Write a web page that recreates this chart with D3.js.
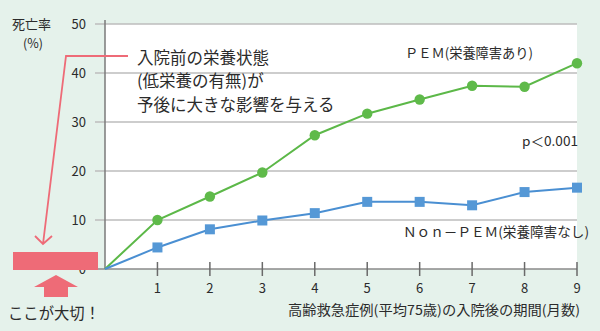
<!DOCTYPE html>
<html lang="ja">
<head>
<meta charset="UTF-8">
<script src="https://d3js.org/d3.v7.min.js"></script>
<style>
  html, body { margin: 0; padding: 0; background: #e5f2eb; }
  svg { display: block; }
  text { font-family: "Noto Sans CJK JP", "Noto Sans", sans-serif; fill: #2b2b2b; }
</style>
</head>
<body>
<div id="chart"></div>
<script>
  // data
  const months = [0, 1, 2, 3, 4, 5, 6, 7, 8, 9];
  const pem = [0, 10, 14.8, 19.7, 27.3, 31.7, 34.6, 37.4, 37.2, 42.0];
  const nonPem = [0, 4.4, 8.1, 9.9, 11.4, 13.7, 13.7, 13.0, 15.7, 16.6];
  const yTicks = [0, 10, 20, 30, 40, 50];
  const xTicks = [1, 2, 3, 4, 5, 6, 7, 8, 9];
  const noteLines = ['入院前の栄養状態', '(低栄養の有無)が', '予後に大きな影響を与える'];

  const W = 600, H = 331;
  const x = d3.scaleLinear().domain([0, 9]).range([105, 577]);
  const y = d3.scaleLinear().domain([0, 50]).range([269, 24]);

  const svg = d3.select('#chart').append('svg').attr('width', W).attr('height', H);

  // background + white plot area
  svg.append('rect').attr('width', W).attr('height', H).attr('fill', '#e5f2eb');
  svg.append('rect')
    .attr('x', x(0)).attr('y', y(50))
    .attr('width', x(9) - x(0)).attr('height', y(0) - y(50))
    .attr('fill', '#fff');

  // horizontal gridlines
  svg.selectAll('line.grid')
    .data(yTicks.filter(d => d > 0))
    .enter().append('line')
    .attr('class', 'grid')
    .attr('x1', 95).attr('x2', x(9))
    .attr('y1', d => y(d)).attr('y2', d => y(d))
    .attr('stroke', '#bdbdbd').attr('stroke-width', 1.5);

  // y tick labels
  svg.selectAll('text.ytick')
    .data(yTicks)
    .enter().append('text')
    .attr('class', 'ytick')
    .attr('x', 86).attr('y', d => y(d))
    .attr('dy', '0.36em')
    .attr('text-anchor', 'end')
    .attr('font-size', 13)
    .text(d => d);

  // axes lines
  svg.append('line')
    .attr('x1', x(0)).attr('x2', x(0)).attr('y1', 20).attr('y2', y(0))
    .attr('stroke', '#7a7a7a').attr('stroke-width', 1.5);
  svg.append('line')
    .attr('x1', 95).attr('x2', x(9)).attr('y1', y(0)).attr('y2', y(0))
    .attr('stroke', '#8a8a8a').attr('stroke-width', 1.5);

  // x ticks
  svg.selectAll('line.xtick')
    .data(xTicks)
    .enter().append('line')
    .attr('x1', d => x(d)).attr('x2', d => x(d))
    .attr('y1', 262).attr('y2', 276)
    .attr('stroke', '#6a6a6a').attr('stroke-width', 1.5);
  svg.selectAll('text.xtick')
    .data(xTicks)
    .enter().append('text')
    .attr('class', 'xtick')
    .attr('x', d => x(d)).attr('y', 288)
    .attr('dy', '0.36em')
    .attr('text-anchor', 'middle')
    .attr('font-size', 13)
    .text(d => d);

  // axis titles
  svg.append('text')
    .attr('x', 580).attr('y', 310).attr('dy', '0.36em')
    .attr('text-anchor', 'end').attr('font-size', 13.5)
    .attr('textLength', 292).attr('lengthAdjust', 'spacingAndGlyphs')
    .text('高齢救急症例(平均75歳)の入院後の期間(月数)');
  svg.append('text')
    .attr('x', 12).attr('y', 24).attr('dy', '0.36em')
    .attr('font-size', 13)
    .text('死亡率');
  svg.append('text')
    .attr('x', 33).attr('y', 43).attr('dy', '0.36em')
    .attr('text-anchor', 'middle').attr('font-size', 12.5)
    .text('(%)');

  // lines
  const line = d3.line().x((d, i) => x(months[i])).y(d => y(d));

  svg.append('path').datum(pem)
    .attr('d', line).attr('fill', 'none')
    .attr('stroke', '#5cb848').attr('stroke-width', 2);
  svg.append('path').datum(nonPem)
    .attr('d', line).attr('fill', 'none')
    .attr('stroke', '#4a8fd2').attr('stroke-width', 2);

  // markers (skip the origin)
  svg.selectAll('circle.pem')
    .data(pem.slice(1))
    .enter().append('circle')
    .attr('cx', (d, i) => x(months[i + 1])).attr('cy', d => y(d))
    .attr('r', 5.2).attr('fill', '#5fba4a');
  svg.selectAll('rect.non')
    .data(nonPem.slice(1))
    .enter().append('rect')
    .attr('x', (d, i) => x(months[i + 1]) - 5).attr('y', d => y(d) - 5)
    .attr('width', 10).attr('height', 10)
    .attr('fill', '#5598d6');

  // series labels
  svg.append('text')
    .attr('x', 405).attr('y', 53).attr('dy', '0.36em').attr('font-size', 13.5)
    .attr('textLength', 128).attr('lengthAdjust', 'spacingAndGlyphs')
    .text('ＰＥＭ(栄養障害あり)');
  svg.append('text')
    .attr('x', 522).attr('y', 141).attr('dy', '0.36em').attr('font-size', 13)
    .attr('textLength', 56).attr('lengthAdjust', 'spacingAndGlyphs')
    .text('p＜0.001');
  svg.append('text')
    .attr('x', 403).attr('y', 232).attr('dy', '0.36em').attr('font-size', 13.5)
    .attr('textLength', 186).attr('lengthAdjust', 'spacingAndGlyphs')
    .text('Ｎｏｎ－ＰＥＭ(栄養障害なし)');

  // annotation text
  svg.selectAll('text.note')
    .data(noteLines)
    .enter().append('text')
    .attr('x', 137).attr('y', (d, i) => 58 + i * 23.5)
    .attr('dy', '0.36em').attr('font-size', 16.5)
    .text(d => d);

  // pink pointer line with arrow
  const pink = '#ee6b77';
  svg.append('path')
    .attr('d', 'M128,56 L66,56 L43,244 M35,236 L43,244 L52,236')
    .attr('fill', 'none').attr('stroke', pink).attr('stroke-width', 1.8);

  // pink bar at baseline
  svg.append('rect')
    .attr('x', 13).attr('y', 252).attr('width', 85).attr('height', 18)
    .attr('fill', pink);

  // block arrow pointing up
  svg.append('path')
    .attr('d', 'M56,275 L78,287 L68,287 L68,297 L44,297 L44,287 L34,287 Z')
    .attr('fill', pink);

  svg.append('text')
    .attr('x', 8).attr('y', 313).attr('dy', '0.36em')
    .attr('font-size', 16).attr('textLength', 92).attr('lengthAdjust', 'spacingAndGlyphs')
    .text('ここが大切！');
</script>
</body>
</html>
